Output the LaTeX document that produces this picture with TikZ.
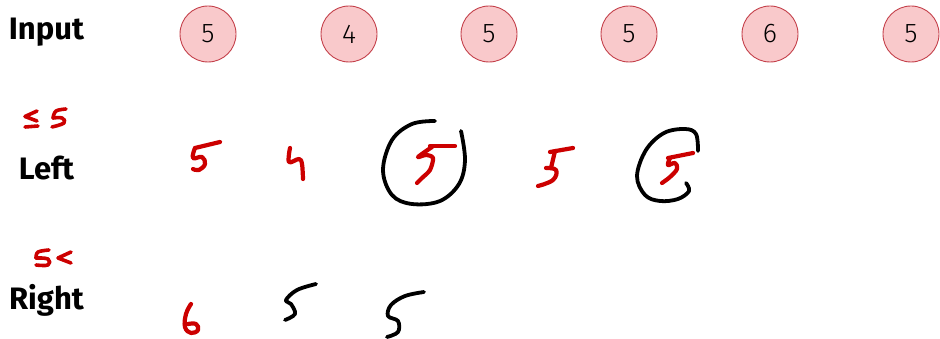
\documentclass[tikz,border=0pt]{standalone}
\usepackage{fontspec}
\setmainfont{Fira Sans}
\newfontfamily\lightfont{Fira Sans Light}
\definecolor{ink}{HTML}{CC0000}
\definecolor{cfill}{HTML}{F9C9CB}
\definecolor{cline}{HTML}{C4404A}
\begin{document}
\begin{tikzpicture}[x=1pt,y=-1pt,
  inputbox/.style={circle,draw=cline,fill=cfill,line width=0.9pt,minimum size=56pt,inner sep=0pt,
    font=\lightfont\fontsize{27}{30}\selectfont},
  rowlabel/.style={font=\bfseries\fontsize{31}{34}\selectfont,inner sep=0pt},
  red ink/.style={draw=ink,line width=4.2pt,line cap=round,line join=round},
  black ink/.style={draw=black,line width=3.8pt,line cap=round,line join=round}]
\useasboundingbox (0,0) rectangle (940,339);
% row labels
\node[rowlabel] (lin) at (46.5,32) {Input};
\node[rowlabel] (lleft) at (46.5,168) {Left};
\node[rowlabel] (lright) at (46.5,300) {Right};
% input circles
\node[inputbox] (i1) at (208,34) {5};
\node[inputbox] (i2) at (349,34) {4};
\node[inputbox] (i3) at (489,34) {5};
\node[inputbox] (i4) at (629,34) {5};
\node[inputbox] (i5) at (770,34) {6};
\node[inputbox] (i6) at (911,34) {5};
% "<= 5" annotation
\draw[red ink,line width=3.6pt] (37,111) -- (25,116.5) -- (37,121);
\draw[red ink,line width=3.6pt] (25,127) -- (38,126);
\draw[red ink,line width=3.6pt] plot[smooth,tension=0.6] coordinates {(66,109) (56,111) (53,118)};
\draw[red ink,line width=3.6pt] plot[smooth,tension=0.7] coordinates {(53,118) (62,118) (64,123) (52,127)};
% "5 <" annotation
\draw[red ink,line width=3.6pt] plot[smooth,tension=0.6] coordinates {(49,250) (38,252) (36,258)};
\draw[red ink,line width=3.6pt] plot[smooth,tension=0.7] coordinates {(36,258) (48,259) (48,265) (36,265)};
\draw[red ink,line width=3.6pt] (71,252) -- (58,258) -- (71,263);
% Left row
\draw[red ink] (195,148) -- (220,142);
\draw[red ink] plot[smooth,tension=0.7] coordinates {(195,148) (193,158) (202,157) (205,164) (199,170) (193,169)};
\draw[red ink] plot[smooth,tension=0.6] coordinates {(290,148) (289,162) (299,159) (302,164) (303,179)};
\draw[black ink] plot[smooth,tension=0.6] coordinates {(435,121) (412,124) (392,140) (383,170) (392,195) (412,204) (440,201) (459,184) (465,160) (461,131)};
\draw[red ink] (430,146) -- (455,146);
\draw[red ink] plot[smooth,tension=0.5] coordinates {(432,147) (418,157) (426,155) (433,158) (430,170) (422,178) (417,183)};
\draw[red ink] (550,152) -- (573,148);
\draw[red ink] plot[smooth,tension=0.7] coordinates {(555,151) (551,168)};
\draw[red ink] plot[smooth,tension=0.7] coordinates {(546,168) (556,170) (553,180) (538,186)};
\draw[black ink] plot[smooth,tension=0.6] coordinates {(698,151) (696,134) (685,129) (664,133) (646,150) (637,176) (645,195) (660,201) (678,199) (689,191) (686,183)};
\draw[red ink] (668,158) -- (693,153);
\draw[red ink] plot[smooth,tension=0.6] coordinates {(670,158) (668,165) (675,163) (677,169) (670,177) (662,183)};
% Right row
\draw[red ink] plot[smooth,tension=0.7] coordinates {(191,304) (186,314) (185,327) (191,333) (198,330) (196,324) (188,324)};
\draw[black ink] plot[smooth,tension=0.6] coordinates {(316,284) (297,290) (286,300) (291,304) (295,314) (285,320)};
\draw[black ink] plot[smooth,tension=0.6] coordinates {(424,292) (405,296) (391,305) (388,316) (398,321) (398,332) (387,337)};
\end{tikzpicture}
\end{document}
